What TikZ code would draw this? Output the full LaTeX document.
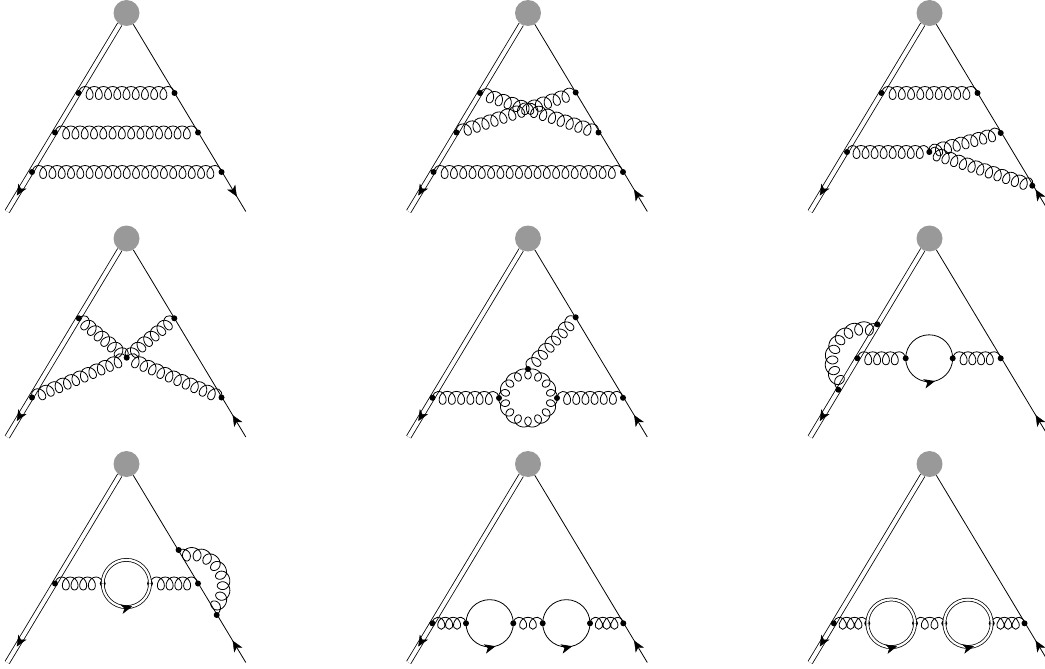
\documentclass[tikz,border=0pt]{standalone}
\usetikzlibrary{decorations,decorations.markings,arrows.meta}
\definecolor{blobgray}{HTML}{999999}
\def\gN{9}\def\gE{6.5}\def\gT{6.5}\def\gB{6.5}\def\gK{.9}
\pgfdeclaredecoration{gloop}{start}{%
  \state{start}[width=\gE pt,next state=down,persistent precomputation={\pgfmathsetmacro\gH{(\pgfdecoratedpathlength-2*\gE pt)/\gN/2}}]{%
    \pgfpathcurveto{\pgfpoint{.1*\gE pt}{.6*\gT pt}}{\pgfpoint{.5*\gE pt}{\gT pt}}{\pgfpoint{\gE pt}{\gT pt}}%
  }%
  \state{down}[width=\gH pt,next state=up,switch if less than=1.8*\gH pt to final]{%
    \pgfpathcurveto{\pgfpoint{\gH pt+4.7pt*\gK}{\gT pt}}{\pgfpoint{\gH pt+6.6pt*\gK}{-\gB pt}}{\pgfpoint{\gH pt}{-\gB pt}}%
  }%
  \state{up}[width=\gH pt,next state=down]{%
    \pgfpathcurveto{\pgfpoint{-6.6pt*\gK}{-\gB pt}}{\pgfpoint{-4.7pt*\gK}{\gT pt}}{\pgfpoint{\gH pt}{\gT pt}}%
  }%
  \state{final}{%
    \pgfpathcurveto{\pgfpoint{.5*\gE pt}{\gT pt}}{\pgfpoint{.9*\gE pt}{.6*\gT pt}}{\pgfpointdecoratedpathlast}%
  }%
}
\tikzset{
  x=1pt,y=-1pt,
  blob/.style={circle,fill=blobgray,draw=none,minimum size=26pt,inner sep=0pt},
  vtx/.style={circle,fill=black,draw=none,minimum size=6pt,inner sep=0pt},
  lineA/.style={line width=.8pt},
  dbl/.style={line width=.8pt,double,double distance=4pt},
  dblc/.style={line width=.75pt,double,double distance=2.2pt},
  gn/.code={\def\gN{#1}},ge/.code={\def\gE{#1}},
  gt/.code={\def\gT{#1}},gb/.code={\def\gB{#1}},gk/.code={\def\gK{#1}},
  gluon/.style={gn=#1,line width=.8pt,decorate,decoration={gloop}},
  gring/.style={line width=.8pt,line join=round},
  arrowat/.style={decoration={markings,mark=at position #1 with {\arrow{Stealth[length=11pt,width=9.5pt,inset=3pt]}}},postaction={decorate}},
}
\newcommand{\basetri}[1]{%
  \node[blob] (apex) at (126.5,13) {};
  \coordinate (endL) at (7.2,211.5);
  \coordinate (endR) at (245.8,211.5);
  \draw[dbl] (apex) -- (endL);
  \draw[lineA] (apex) -- (endR);
  \path[arrowat=.915] (apex) -- (endL);
  \ifnum#1=1 \path[arrowat=.92] (apex) -- (endR);
  \else \path[arrowat=.117] (endR) -- (apex);\fi
}
\newcommand{\vv}[3]{\node[vtx] (#1) at (#2,#3) {};}
% gluon curled along a circle: centre, radius, start, end, loops, height, loop swing (deg)
\newcommand{\gcurl}[7]{%
  \draw[gring,shift={(#1)}] plot[variable=\t,domain=0:360*#5,samples=\the\numexpr36*#5+1\relax]
   ({(#2-#6*(1-cos(\t))/2)*cos(#3+(\t/360)*((#4-#3)/#5)+#7*sin(\t))},
    {(#2-#6*(1-cos(\t))/2)*sin(#3+(\t/360)*((#4-#3)/#5)+#7*sin(\t))});
}
\begin{document}
\begin{tikzpicture}
\useasboundingbox (0,0) rectangle (1045,669);
% panel 1
\begin{scope}[name prefix=a-]
\basetri{1}
\vv{l1}{78.5}{93}\vv{r1}{174.5}{93}
\vv{l2}{55}{132.5}\vv{r2}{198}{132.5}
\vv{l3}{32}{172}\vv{r3}{221.5}{172}
\draw[gluon=9] (l1.center) -- (r1.center);
\draw[gluon=14] (l2.center) -- (r2.center);
\draw[gluon=19] (l3.center) -- (r3.center);
\end{scope}
% panel 2
\begin{scope}[shift={(401.5,0)},name prefix=b-]
\basetri{0}
\vv{l1}{78.5}{93}\vv{r1}{174.2}{92.5}
\vv{l2}{55}{132.5}\vv{r2}{197}{132.5}
\vv{l3}{32}{172}\vv{r3}{221.5}{172}
\draw[gluon=12] (l1.center) -- (r2.center);
\draw[gluon=12] (l2.center) -- (r1.center);
\draw[gluon=19] (l3.center) -- (r3.center);
\end{scope}
% panel 3
\begin{scope}[shift={(803,0)},name prefix=c-]
\basetri{0}
\vv{l1}{78.5}{93}\vv{r1}{174.5}{93}
\vv{l2}{44}{152}\vv{j}{126.3}{152}
\vv{r2}{197.7}{133}\vv{r3}{229.3}{185.7}
\draw[gluon=9] (l1.center) -- (r1.center);
\draw[gluon=8,ge=5] (l2.center) -- (j.center);
\draw[gluon=7,ge=5] (j.center) -- (r2.center);
\draw[gluon=11,ge=4] (j.center) -- (r3.center);
\end{scope}
% panel 4
\begin{scope}[shift={(0,225.5)},name prefix=d-]
\basetri{0}
\vv{l1}{78.8}{92.8}\vv{r1}{174.3}{92.8}
\vv{l3}{32}{172}\vv{r3}{221.5}{172}
\vv{j}{126.7}{132.2}
\draw[gluon=6,ge=5] (l1.center) -- (j.center);
\draw[gluon=6,ge=5] (j.center) -- (r1.center);
\draw[gluon=10,ge=5.5] (l3.center) -- (j.center);
\draw[gluon=10,ge=5.5] (j.center) -- (r3.center);
\end{scope}
% panel 5
\begin{scope}[shift={(401.5,225.5)},name prefix=e-]
\basetri{0}
\vv{l}{31}{172.3}\vv{r}{221.5}{172.3}
\vv{cl}{97.5}{172.5}\vv{cr}{155.5}{172.5}\vv{ct}{126.5}{143.5}
\vv{rt}{174.2}{91.8}
\coordinate (ring) at (126.5,172.5);
\draw[gluon=6,ge=5.5] (l.center) -- (cl.center);
\draw[gluon=6,ge=5.5] (cr.center) -- (r.center);
\draw[gluon=6,ge=6] (ct.center) -- (rt.center);
\gcurl{ring}{29.5}{180}{540}{14}{10.5}{14}
\end{scope}
% panel 6
\begin{scope}[shift={(803,225.5)},name prefix=f-]
\basetri{0}
\vv{a}{74.3}{98.8}\vv{b}{35.3}{164.2}
\vv{l}{54.3}{132.8}\vv{cl}{102.7}{132.8}\vv{cr}{149.7}{132.8}\vv{r}{197.7}{132.8}
\coordinate (ring) at (60.5,134.9);
\draw[gluon=4] (l.center) -- (cl.center);
\draw[gluon=4] (cr.center) -- (r.center);
\draw[lineA] (cl.center) arc[start angle=180,end angle=360,radius=23.5];
\draw[lineA,arrowat=.58] (cl.center) arc[start angle=180,end angle=0,radius=23.5];
\gcurl{ring}{38.6}{130.7}{291}{8}{13}{12}
\end{scope}
% panel 7
\begin{scope}[shift={(0,451)},name prefix=g-]
\basetri{0}
\vv{a}{178.6}{99}\vv{b}{216.7}{164}
\vv{l}{55}{132.5}\vv{cl}{102.7}{132.5}\vv{cr}{150}{132.5}\vv{r}{198}{132.5}
\coordinate (ring) at (191.96,134.84);
\draw[gluon=4] (l.center) -- (cl.center);
\draw[gluon=4] (cr.center) -- (r.center);
\draw[dblc] (cl.center) arc[start angle=180,end angle=360,radius=23.65];
\draw[dblc] (cl.center) arc[start angle=180,end angle=0,radius=23.65];
\path[arrowat=.58] (cl.center) arc[start angle=180,end angle=0,radius=23.65];
\gcurl{ring}{38.3}{249.6}{409.7}{8}{13}{12}
\end{scope}
% panel 8
\begin{scope}[shift={(401.5,451)},name prefix=h-]
\basetri{0}
\vv{l}{30.8}{172.3}\vv{a}{64.5}{172.3}\vv{b}{111.8}{172.3}\vv{c}{141.2}{172.3}\vv{d}{188.5}{172.3}\vv{r}{221.8}{172.3}
\draw[gluon=3,ge=5,gt=6,gb=6] (l.center) -- (a.center);
\draw[gluon=2,ge=5,gt=6,gb=6] (b.center) -- (c.center);
\draw[gluon=3,ge=5,gt=6,gb=6] (d.center) -- (r.center);
\draw[lineA] (a.center) arc[start angle=180,end angle=360,radius=23.65];
\draw[lineA,arrowat=.58] (a.center) arc[start angle=180,end angle=0,radius=23.65];
\draw[lineA] (c.center) arc[start angle=180,end angle=360,radius=23.65];
\draw[lineA,arrowat=.58] (c.center) arc[start angle=180,end angle=0,radius=23.65];
\end{scope}
% panel 9
\begin{scope}[shift={(803,451)},name prefix=i-]
\basetri{0}
\vv{l}{30.8}{172.3}\vv{a}{64.3}{172.3}\vv{b}{112}{172.3}\vv{c}{141.3}{172.3}\vv{d}{188.7}{172.3}\vv{r}{221.5}{172.3}
\draw[gluon=3,ge=5,gt=6,gb=6] (l.center) -- (a.center);
\draw[gluon=2,ge=5,gt=6,gb=6] (b.center) -- (c.center);
\draw[gluon=3,ge=5,gt=6,gb=6] (d.center) -- (r.center);
\draw[dblc] (a.center) arc[start angle=180,end angle=360,radius=23.85];
\draw[dblc] (a.center) arc[start angle=180,end angle=0,radius=23.85];
\path[arrowat=.58] (a.center) arc[start angle=180,end angle=0,radius=23.85];
\draw[dblc] (c.center) arc[start angle=180,end angle=360,radius=23.7];
\draw[dblc] (c.center) arc[start angle=180,end angle=0,radius=23.7];
\path[arrowat=.58] (c.center) arc[start angle=180,end angle=0,radius=23.7];
\end{scope}
\end{tikzpicture}
\end{document}
